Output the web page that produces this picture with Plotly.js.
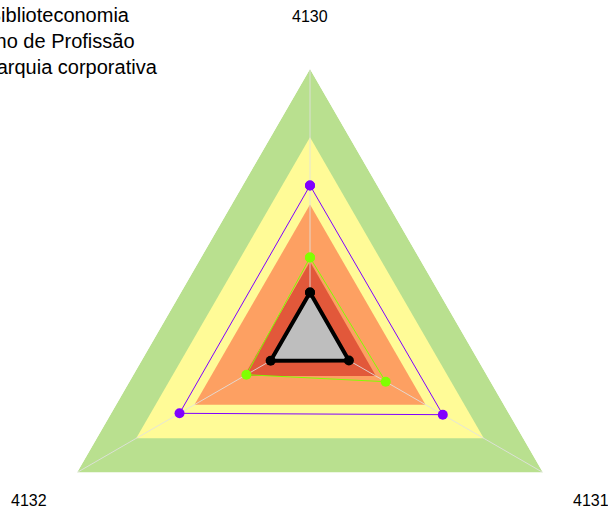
<!DOCTYPE html>
<html>
<head>
<meta charset="utf-8">
<script src="https://cdn.plot.ly/plotly-3.0.1.min.js"></script>
<style>
  html, body { margin: 0; padding: 0; overflow: hidden; background: #ffffff; }
  #chart { width: 608px; height: 640px; }
</style>
</head>
<body>
<div id="chart"></div>
<script>
// ---- data ----
const categories = ['4130', '4131', '4132'];
const seriesNames = ['Biblioteconomia', 'Ano de Profissão', 'Hierarquia corporativa'];
const biblioteconomiaValues = [56.7, 57.0, 56.0];
const anoProfissaoValues = [29.9, 32.5, 27.3];
const hierarquiaValues = [16.9, 16.7, 16.9];
const bandLevels = [100, 74.6, 49.6, 28.3];
const bandColors = ['#b9e08f', '#fffb97', '#fda062', '#e2583a'];
const radialMax = 100;

// ---- helpers ----
function closeLoop(arr) { return arr.concat([arr[0]]); }

const W = 608, H = 640;
const M = { l: 41, r: 29, t: 69, b: 33 };
const PW = W - M.l - M.r, PH = H - M.t - M.b;
function px2x(px) { return (px - M.l) / PW; }
function py2y(py) { return 1 - (py - M.t) / PH; }

const traces = [];

// background bands
bandLevels.forEach(function (lvl, i) {
  traces.push({
    type: 'scatterpolar',
    r: closeLoop(categories.map(function () { return lvl; })),
    theta: closeLoop(categories.slice()),
    mode: 'lines',
    fill: 'toself',
    fillcolor: bandColors[i],
    line: { width: 0, color: bandColors[i] },
    hoverinfo: 'skip',
    showlegend: false
  });
});

// spokes
const spokeR = [], spokeT = [];
categories.forEach(function (c) { spokeR.push(0, radialMax, null); spokeT.push(c, c, null); });
traces.push({
  type: 'scatterpolar', r: spokeR, theta: spokeT, mode: 'lines',
  line: { color: 'rgba(225,225,225,0.85)', width: 1 },
  hoverinfo: 'skip', showlegend: false
});

// data series
traces.push({
  type: 'scatterpolar', name: seriesNames[0],
  r: closeLoop(biblioteconomiaValues), theta: closeLoop(categories.slice()),
  mode: 'lines+markers',
  line: { color: '#8000ff', width: 1 },
  marker: { color: '#8000ff', size: 10 },
  showlegend: false
});
traces.push({
  type: 'scatterpolar', name: seriesNames[1],
  r: closeLoop(anoProfissaoValues), theta: closeLoop(categories.slice()),
  mode: 'lines+markers',
  line: { color: '#80ff00', width: 1 },
  marker: { color: '#80ff00', size: 10 },
  showlegend: false
});
traces.push({
  type: 'scatterpolar', name: seriesNames[2],
  r: closeLoop(hierarquiaValues), theta: closeLoop(categories.slice()),
  mode: 'lines+markers',
  fill: 'toself', fillcolor: '#bebebe',
  line: { color: '#000000', width: 4 },
  marker: { color: '#000000', size: 10 },
  showlegend: false
});

// axis labels (category names) outside the triangle
const labelPos = { '4130': [309.5, 16.7], '4131': [590.5, 500], '4132': [28.5, 500] };
const annotations = categories.map(function (c) {
  return {
    text: c, xref: 'paper', yref: 'paper',
    x: px2x(labelPos[c][0]), y: py2y(labelPos[c][1]),
    xanchor: 'center', yanchor: 'middle', showarrow: false,
    font: { family: 'Liberation Sans, Arial, sans-serif', size: 16, color: '#000000' }
  };
});
annotations.push({
  text: seriesNames.join('<br>'), xref: 'paper', yref: 'paper',
  x: px2x(59), y: py2y(41), xanchor: 'center', yanchor: 'middle', align: 'center',
  showarrow: false,
  font: { family: 'Liberation Sans, Arial, sans-serif', size: 20, color: '#000000' }
});

const layout = {
  width: W, height: H,
  margin: M,
  paper_bgcolor: '#ffffff',
  showlegend: false,
  font: { family: 'Liberation Sans, Arial, sans-serif' },
  polar: {
    domain: { x: [0, 1], y: [0, 1] },
    bgcolor: 'rgba(0,0,0,0)',
    gridshape: 'linear',
    radialaxis: {
      range: [0, radialMax], visible: true, showgrid: false, showline: false,
      showticklabels: false, ticks: ''
    },
    angularaxis: {
      type: 'category', categoryarray: categories, categoryorder: 'array',
      rotation: 90, direction: 'clockwise',
      showgrid: false, showline: false, showticklabels: false, ticks: ''
    }
  },
  annotations: annotations
};

Plotly.newPlot('chart', traces, layout, { displayModeBar: false, staticPlot: true });
</script>
</body>
</html>
